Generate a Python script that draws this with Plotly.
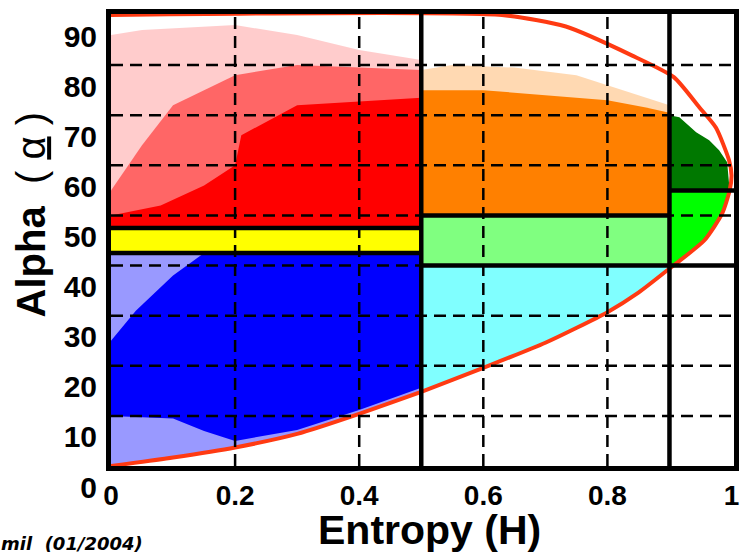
import plotly.graph_objects as go

# ---------------- values ----------------
# red feasibility curve, lower branch (Entropy H, Alpha in degrees)
CURVE_LOW_H = [0.0, 0.1, 0.2, 0.3, 0.4, 0.5, 0.6, 0.7, 0.8, 0.85, 0.9, 0.956, 0.985, 0.997, 1.0]
CURVE_LOW_A = [0.0, 1.7, 3.7, 6.4, 10.4, 14.8, 19.6, 24.6, 30.7, 34.6, 39.4, 45.0, 50.4, 55.0, 58.0]
# upper branch, from the nose back to H = 0
CURVE_UP_H = [0.996, 0.975, 0.948, 0.907, 0.84, 0.733, 0.63, 0.0]
CURVE_UP_A = [61.0, 67.5, 71.6, 77.6, 81.9, 87.7, 90.0, 90.0]

# zone boundaries of the H / alpha plane
H_SPLITS = [0.5, 0.9]
LOW_H_ALPHA = [42.5, 47.5]
MID_H_ALPHA = [40.0, 50.0]
HIGH_H_ALPHA = [40.0, 55.0]

# outer edges of the pixel cloud in each zone
RED_SPARSE_H = [0.0, 0.05, 0.2, 0.3, 0.4, 0.5]
RED_SPARSE_A = [86, 87, 88, 86, 83, 81]
RED_MED_H = [0.0, 0.05, 0.1, 0.2, 0.3, 0.5]
RED_MED_A = [55, 64, 72, 78, 80, 79]
RED_DENSE_H = [0.0, 0.08, 0.15, 0.2, 0.21, 0.3, 0.5]
RED_DENSE_A = [50, 52, 56, 60, 66, 72, 73.5]

BLUE_DENSE_BOT_H = [0.0, 0.1, 0.15, 0.2, 0.3, 0.4, 0.5]
BLUE_DENSE_BOT_A = [10, 9.5, 7, 5, 7.2, 11.2, 15.6]
BLUE_DENSE_TOP_H = [0.5, 0.15, 0.1, 0.04, 0.0]
BLUE_DENSE_TOP_A = [42.5, 42.5, 38, 31, 25]

ORANGE_SPARSE_H = [0.5, 0.55, 0.65, 0.75, 0.85, 0.9]
ORANGE_SPARSE_A = [79, 80, 79.5, 78, 74, 72]
ORANGE_DENSE_H = [0.5, 0.6, 0.7, 0.8, 0.86, 0.9]
ORANGE_DENSE_A = [75, 75, 74, 73, 71.6, 70.5]

DKGREEN_TOP_H = [0.9, 0.916, 0.943, 0.964, 0.98, 0.993, 0.997]
DKGREEN_TOP_A = [70, 69.6, 66.6, 65, 63, 60.6, 55]

X_TICKS = [0, 0.2, 0.4, 0.6, 0.8, 1.0]
X_TICK_TEXT = ["0", "0.2", "0.4", "0.6", "0.8", "1"]
Y_TICKS = [0, 10, 20, 30, 40, 50, 60, 70, 80, 90]
X_GRID = [0.2, 0.4, 0.6, 0.8]
Y_GRID = [10, 20, 30, 40, 50, 60, 70, 80]

X_MAX = 1.004
Y_MAX = 90.2

RED = "#FF0000"
YELLOW = "#FFFF00"
BLUE = "#0000FF"
ORANGE = "#FF8000"
LGREEN = "#80FF80"
CYAN = "#80FFFF"
DKGREEN = "#007800"
GREEN = "#00FF00"
CURVE = "#FF3A12"

FONT = "Liberation Sans"


def rgba(hex_color, a):
    h = hex_color.lstrip("#")
    r, g, b = int(h[0:2], 16), int(h[2:4], 16), int(h[4:6], 16)
    return f"rgba({r},{g},{b},{a})"


def poly(xs, ys, color, alpha=1.0):
    return go.Scatter(x=xs, y=ys, fill="toself", mode="lines",
                      line=dict(width=0, color=rgba(color, alpha)),
                      fillcolor=rgba(color, alpha), hoverinfo="skip",
                      showlegend=False)


def curve_between(h0, h1):
    pts = [(h, a) for h, a in zip(CURVE_LOW_H, CURVE_LOW_A) if h0 <= h <= h1]
    return [p[0] for p in pts], [p[1] for p in pts]


h1, h2 = H_SPLITS
traces = []

# ---- low entropy zones ----
cx, cy = curve_between(0.0, h1)
traces.append(poly(cx + [h1, 0.0], cy + [LOW_H_ALPHA[0], LOW_H_ALPHA[0]], BLUE, 0.4))
traces.append(poly(BLUE_DENSE_BOT_H + BLUE_DENSE_TOP_H,
                   BLUE_DENSE_BOT_A + BLUE_DENSE_TOP_A, BLUE, 1.0))
traces.append(poly([0, h1, h1, 0], [LOW_H_ALPHA[0], LOW_H_ALPHA[0], LOW_H_ALPHA[1], LOW_H_ALPHA[1]], YELLOW))
for hs, as_, al in [(RED_SPARSE_H, RED_SPARSE_A, 0.2),
                    (RED_MED_H, RED_MED_A, 0.5),
                    (RED_DENSE_H, RED_DENSE_A, 1.0)]:
    traces.append(poly([0, h1] + hs[::-1], [LOW_H_ALPHA[1], LOW_H_ALPHA[1]] + as_[::-1], RED, al))

# ---- medium entropy zones ----
cx, cy = curve_between(h1, h2)
traces.append(poly(cx + [h2, h1], cy + [MID_H_ALPHA[0], MID_H_ALPHA[0]], CYAN))
traces.append(poly([h1, h2, h2, h1], [MID_H_ALPHA[0], MID_H_ALPHA[0], MID_H_ALPHA[1], MID_H_ALPHA[1]], LGREEN))
for hs, as_, al in [(ORANGE_SPARSE_H, ORANGE_SPARSE_A, 0.3),
                    (ORANGE_DENSE_H, ORANGE_DENSE_A, 1.0)]:
    traces.append(poly([h1, h2] + hs[::-1], [MID_H_ALPHA[1], MID_H_ALPHA[1]] + as_[::-1], ORANGE, al))

# ---- high entropy zones ----
cx, cy = curve_between(h2, 0.997)
traces.append(poly([h2] + cx[::-1], [HIGH_H_ALPHA[1]] + cy[::-1], GREEN))
traces.append(poly([h2] + DKGREEN_TOP_H, [HIGH_H_ALPHA[1]] + DKGREEN_TOP_A, DKGREEN))

# ---- red boundary curve ----
traces.append(go.Scatter(x=CURVE_LOW_H + CURVE_UP_H, y=CURVE_LOW_A + CURVE_UP_A,
                         mode="lines", line=dict(color=CURVE, width=4, shape="spline", smoothing=0.6),
                         hoverinfo="skip", showlegend=False))

fig = go.Figure(traces)

shapes = []
for gx in X_GRID:
    shapes.append(dict(type="line", xref="x", yref="paper", x0=gx, x1=gx, y0=0, y1=1,
                       line=dict(color="black", width=2.5, dash="12px,7px"), layer="above"))
for gy in Y_GRID:
    shapes.append(dict(type="line", xref="paper", yref="y", x0=0, x1=1, y0=gy, y1=gy,
                       line=dict(color="black", width=2.5, dash="12px,7px"), layer="above"))
zl = dict(color="black", width=4.5)
for hs in H_SPLITS:
    shapes.append(dict(type="line", xref="x", yref="paper", x0=hs, x1=hs, y0=0, y1=1, line=zl, layer="above"))
for a in LOW_H_ALPHA:
    shapes.append(dict(type="line", xref="x", yref="y", x0=0, x1=h1, y0=a, y1=a, line=zl, layer="above"))
for a in MID_H_ALPHA:
    shapes.append(dict(type="line", xref="x", yref="y", x0=h1, x1=h2, y0=a, y1=a, line=zl, layer="above"))
for a in HIGH_H_ALPHA:
    shapes.append(dict(type="line", xref="x", yref="y", x0=h2, x1=X_MAX, y0=a, y1=a, line=zl, layer="above"))

fig.update_layout(
    width=741, height=553,
    margin=dict(l=111, r=7, t=14, b=87),
    paper_bgcolor="white", plot_bgcolor="white",
    showlegend=False,
    shapes=shapes,
    xaxis=dict(range=[0, X_MAX], tickvals=X_TICKS, ticktext=X_TICK_TEXT, automargin=False,
               showgrid=False, zeroline=False, showline=True, linecolor="black",
               linewidth=5, mirror=True, ticks="", ticklabelstandoff=0,
               tickfont=dict(family=FONT, size=28, color="black", weight="bold")),
    yaxis=dict(range=[0, Y_MAX], tickvals=Y_TICKS, automargin=False,
               showgrid=False, zeroline=False, showline=True, linecolor="black",
               linewidth=5, mirror=True, ticks="", ticklabelposition="outside bottom",
               ticklabelstandoff=3,
               tickfont=dict(family=FONT, size=30, color="black", weight="bold")),
    annotations=[
        dict(text="Entropy (H)", xref="paper", yref="paper", x=0.512, y=-0.142,
             xanchor="center", yanchor="middle", showarrow=False,
             font=dict(family=FONT, size=41, color="black", weight="bold")),
        dict(text="<b>Alpha</b>  ( <u>α</u> )", xref="paper", yref="paper", x=-0.128, y=0.555,
             xanchor="center", yanchor="middle", showarrow=False, textangle=-90,
             font=dict(family=FONT, size=40, color="black", weight="normal")),
        dict(text="mil  (01/2004)", xref="paper", yref="paper", x=-0.18, y=-0.172,
             xanchor="left", yanchor="middle", showarrow=False,
             font=dict(family="DejaVu Sans", size=18, color="black", style="italic", weight="bold")),
    ],
)

fig.write_html("out.html", config={"displayModeBar": False},
               post_script="document.body.style.margin='0';document.body.style.overflow='hidden';")
